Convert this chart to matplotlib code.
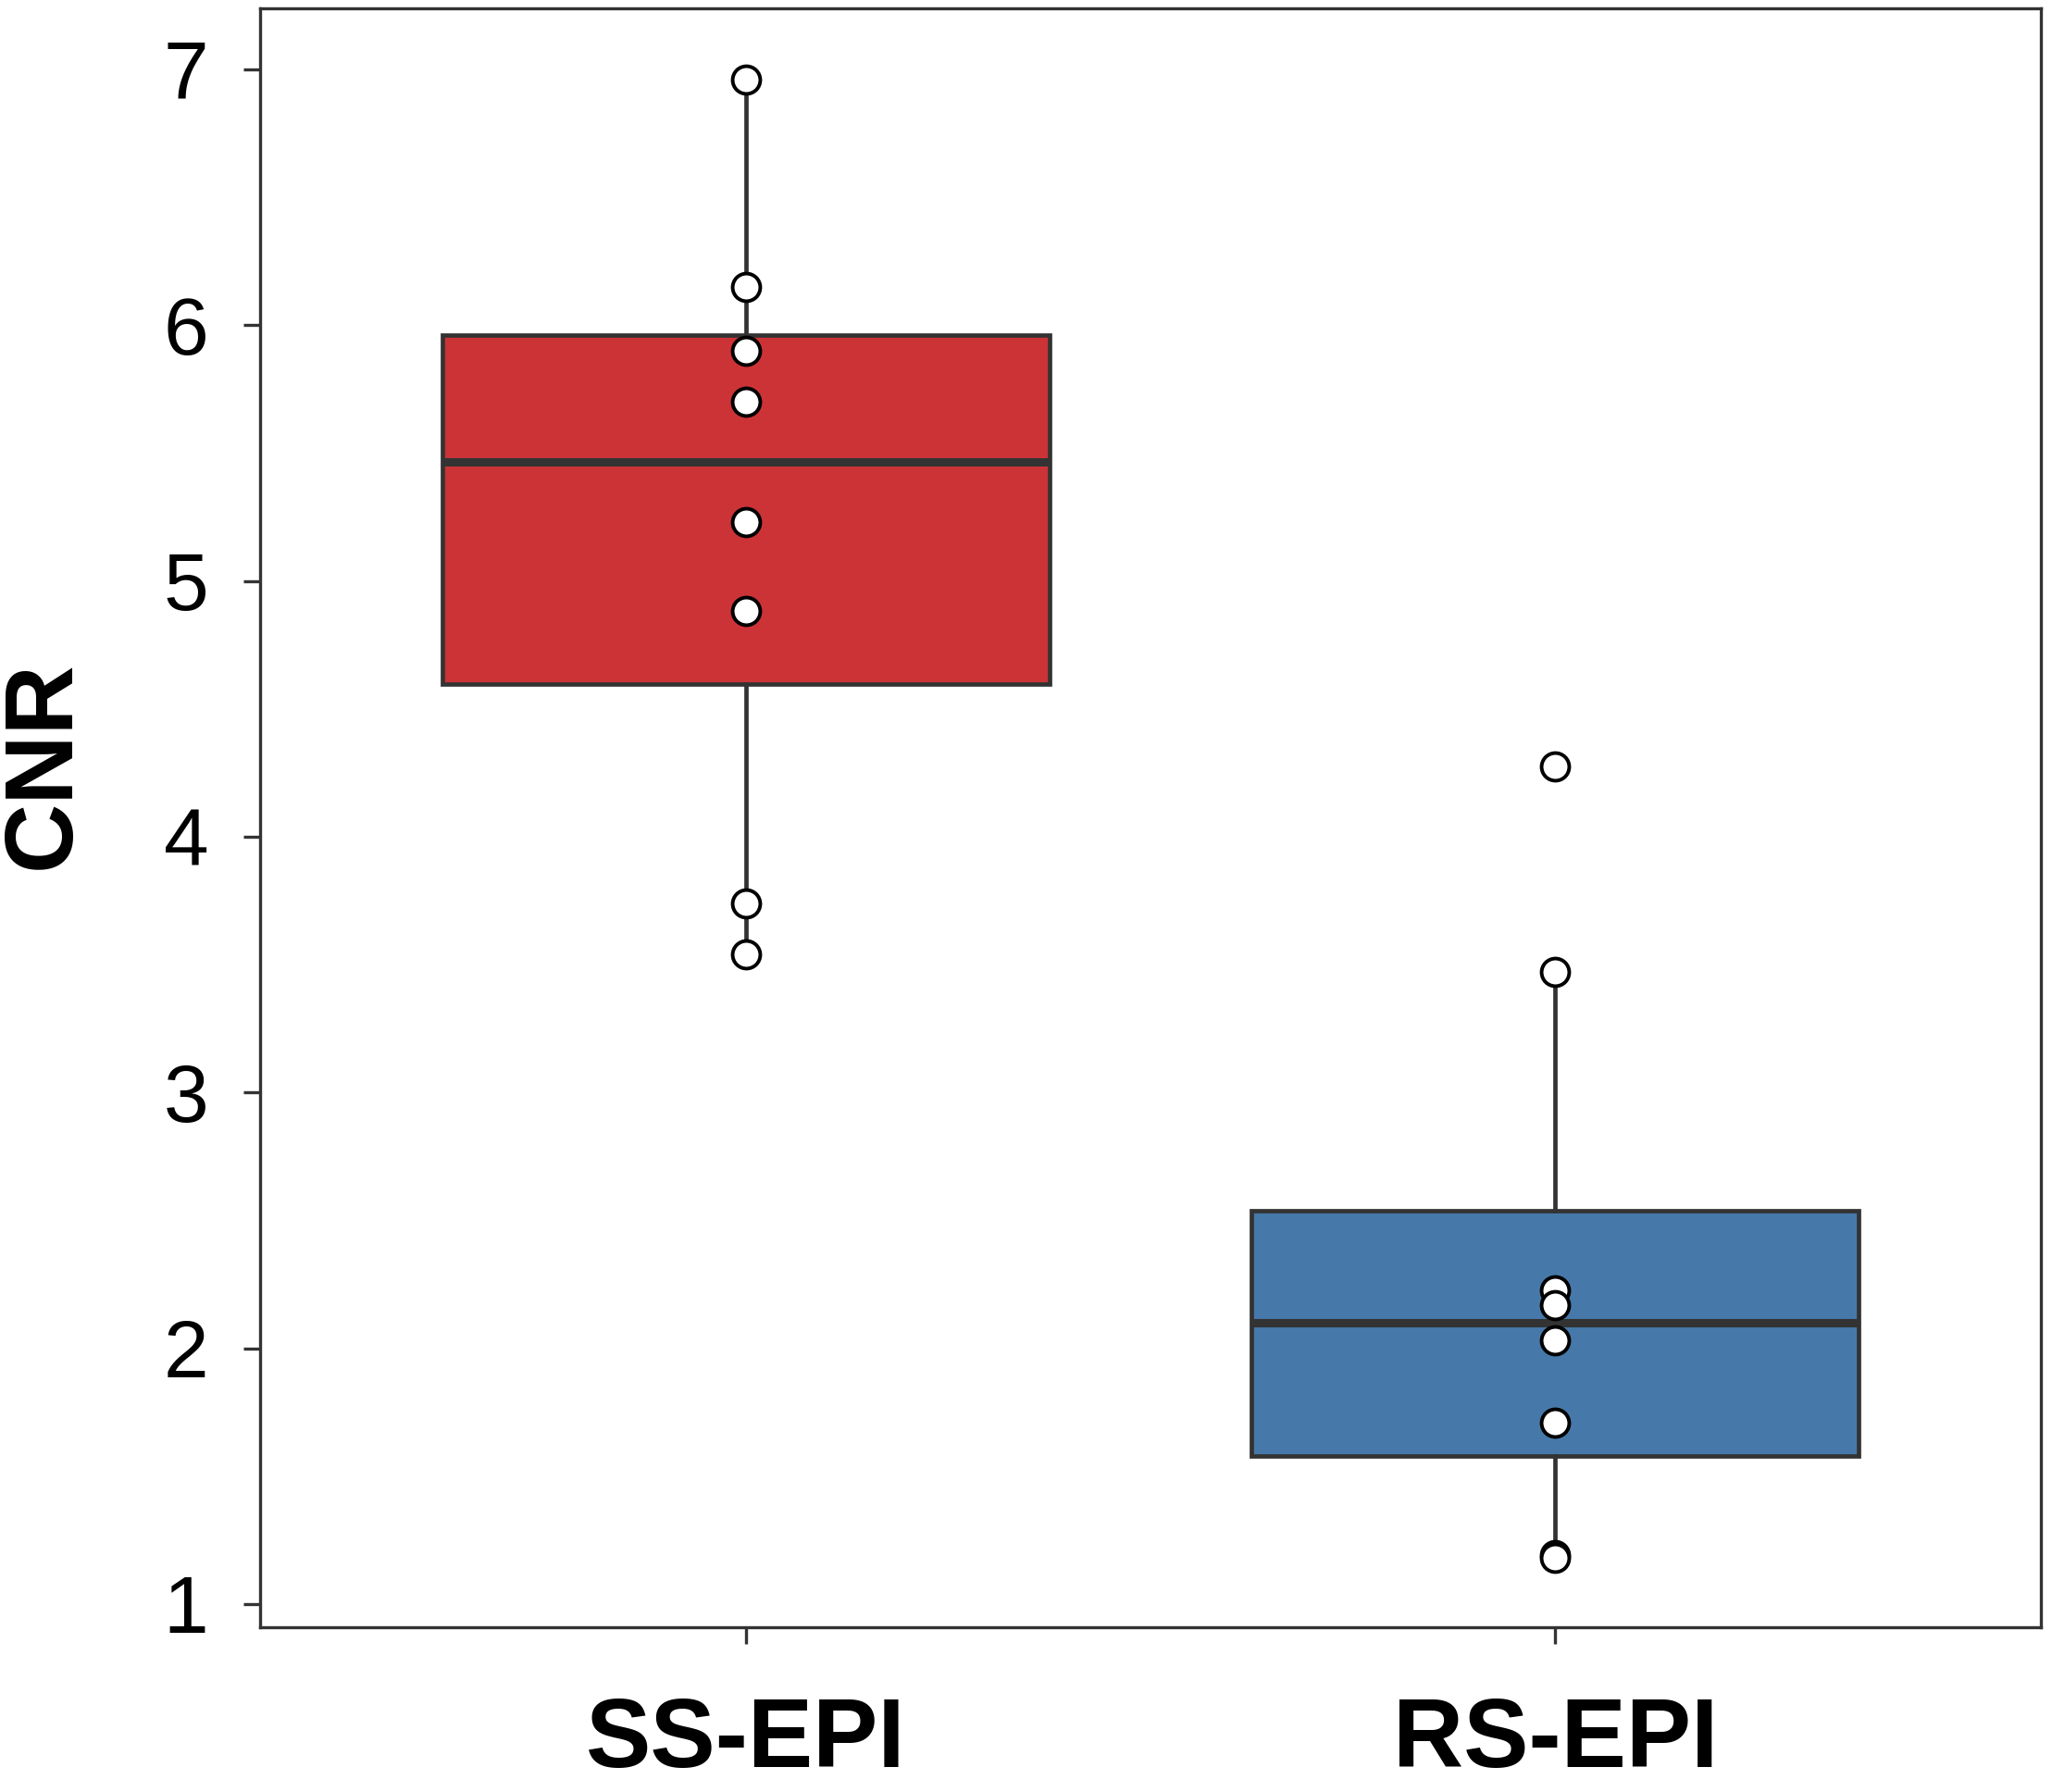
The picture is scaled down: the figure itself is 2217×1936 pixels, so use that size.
import matplotlib
matplotlib.use("Agg")
import matplotlib.pyplot as plt

plt.rcParams["font.family"] = ["Liberation Sans", "DejaVu Sans"]

# values
categories = ["SS-EPI", "RS-EPI"]
ss_epi_cnr = [6.96, 6.15, 5.90, 5.70, 5.23, 4.885, 3.74, 3.54]
rs_epi_cnr = [4.275, 3.47, 2.225, 2.17, 2.03, 1.71, 1.19, 1.18]
box_colors = ["#CC3337", "#4679A9"]

edge = "#333333"

fig = plt.figure(figsize=(22.17, 19.36), dpi=100)
ax = fig.add_axes([0.1267, 0.0919, 0.8679, 0.9034])

data = [ss_epi_cnr, rs_epi_cnr]
positions = list(range(len(categories)))

bp = ax.boxplot(
    data,
    positions=positions,
    widths=0.75,
    patch_artist=True,
    showfliers=False,
    showcaps=False,
    whis=1.5,
    boxprops=dict(linewidth=3.4, edgecolor=edge),
    whiskerprops=dict(linewidth=3.4, color=edge),
    medianprops=dict(linewidth=6.5, color=edge),
    zorder=2,
)
for patch, col in zip(bp["boxes"], box_colors):
    patch.set_facecolor(col)

# raw points on top of the boxes
for pos, vals in zip(positions, data):
    ax.plot([pos] * len(vals), vals, "o",
            markersize=21.5, markerfacecolor="white",
            markeredgecolor="black", markeredgewidth=2.8,
            linestyle="none", zorder=3)

ax.set_xlim(-0.6, 1.6)
ax.set_ylim(0.909, 7.239)
ax.set_yticks([1, 2, 3, 4, 5, 6, 7])
ax.set_xticks(positions)
ax.set_xticklabels(categories, fontsize=76, fontweight="bold")

ax.tick_params(axis="y", labelsize=63, length=13, width=2.4,
               color=edge, pad=27)
ax.tick_params(axis="x", length=13, width=2.4, color=edge, pad=40)

for sp in ax.spines.values():
    sp.set_linewidth(2.4)
    sp.set_color(edge)

ax.set_ylabel("CNR", fontsize=75, fontweight="bold", va="center")
ax.yaxis.set_label_coords(-0.121, 0.533)

fig.savefig("out.png", dpi=100)
